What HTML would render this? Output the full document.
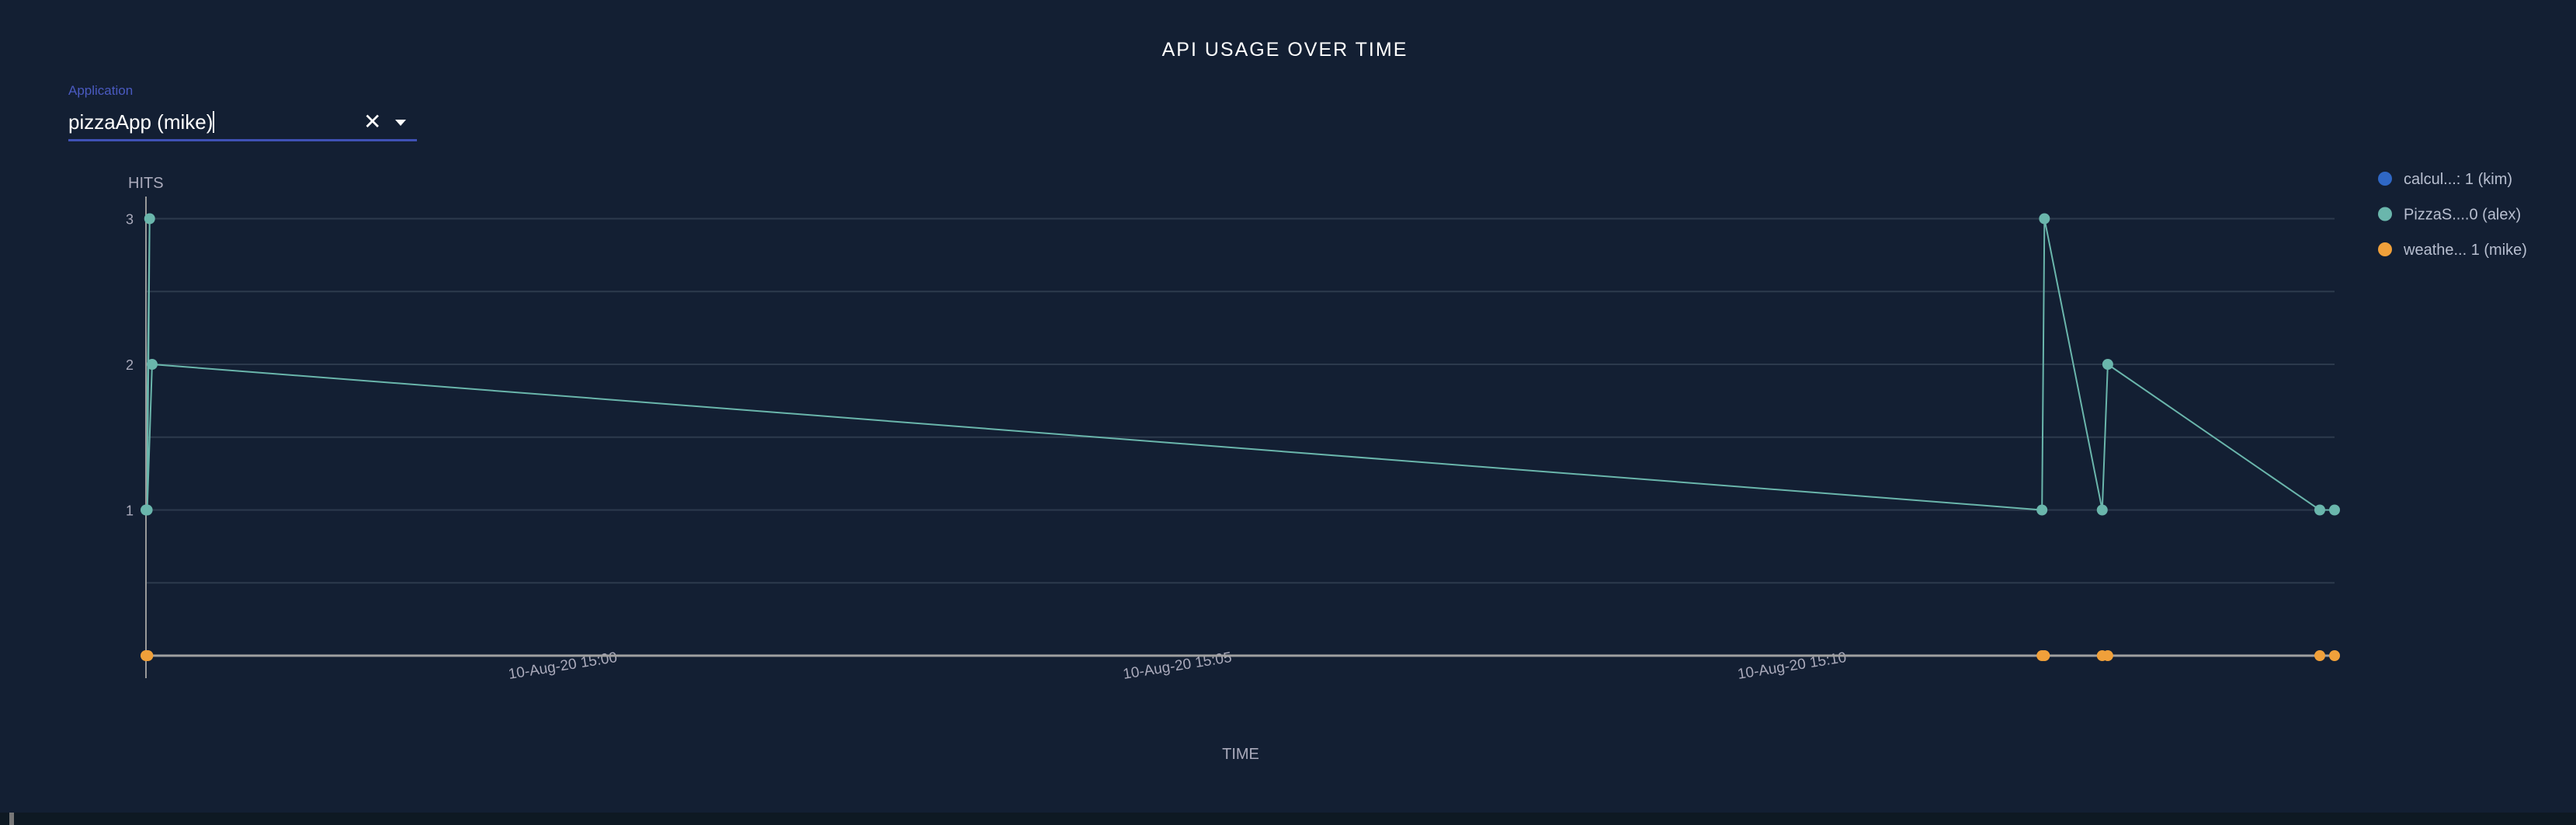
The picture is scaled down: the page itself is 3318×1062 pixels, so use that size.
<!DOCTYPE html>
<html><head><meta charset="utf-8">
<style>
html,body{margin:0;padding:0;background:#131f33;}
body{width:3318px;height:1062px;position:relative;overflow:hidden;font-family:"Liberation Sans",sans-serif;}
.abs{position:absolute;}
</style></head>
<body>
<div class="abs" style="left:0;width:3310px;top:50px;text-align:center;color:#fff;font-size:25px;letter-spacing:2px;">API USAGE OVER TIME</div>
<div class="abs" style="left:88px;top:107px;color:#4a5ac0;font-size:17px;">Application</div>
<div class="abs" style="left:88px;top:139px;width:449px;height:40px;border-bottom:3px solid #3f51b5;">
  <span style="color:#fff;font-size:26px;line-height:36px;">pizzaApp (mike)<span style="display:inline-block;width:2px;height:28px;background:#fff;vertical-align:-5px;"></span></span>
  <span style="position:absolute;left:380px;top:0;color:#fff;font-size:28px;line-height:36px;">✕</span>
  <span style="position:absolute;left:421px;top:15px;width:0;height:0;border-left:7px solid transparent;border-right:7px solid transparent;border-top:8px solid #fff;"></span>
</div>
<div class="abs" style="left:0;top:1046px;width:3318px;height:16px;background:#0e1923;"></div>
<div class="abs" style="left:12px;top:1046px;width:6px;height:16px;background:#777;"></div>
<svg id="chart" class="abs" style="left:0;top:0" width="3318" height="1062"></svg>
<script>
const yTicks=[1,2,3];
const xTickMinutes=[0,5,10];
const xTickLabels=["10-Aug-20 15:00","10-Aug-20 15:05","10-Aug-20 15:10"];
const seriesNames=["calcul...: 1 (kim)","PizzaS....0 (alex)","weathe... 1 (mike)"];
const seriesColors=["#2f67c4","#6ab6ac","#f0a03a"];
// minutes relative to 15:00
const pizzaTimes=[-2.955,-2.925,-2.945,-2.905,12.47,12.49,12.96,13.005,14.73,14.85];
const pizzaHits=[1,3,1,2,1,3,1,2,1,1];
const weatherTimes=[-2.955,-2.94,12.47,12.49,12.96,13.005,14.73,14.85];
const weatherHits=[0,0,0,0,0,0,0,0];
const calcTimes=[];
const calcHits=[];

const NS="http://www.w3.org/2000/svg";
const svg=document.getElementById('chart');
const X0=188,X1=3007,Y0=844,UNIT=187.5;
const tMin=-2.955,tMax=14.85;
function xs(t){return X0+(t-tMin)/(tMax-tMin)*(X1-X0);}
function ys(v){return Y0-v*UNIT;}
function mk(tag,attrs){const e=document.createElementNS(NS,tag);for(const k in attrs)e.setAttribute(k,attrs[k]);svg.appendChild(e);return e;}
for(let v=0.5;v<=3.001;v+=0.5){
  const g=mk('line',{x1:X0,x2:X1,y1:ys(v),y2:ys(v),stroke:'#2c3a4d','stroke-width':2});
  
  
}
yTicks.forEach(v=>{
  const t=mk('text',{x:172,y:ys(v)+7,'text-anchor':'end',fill:'#aab','font-size':18,'font-family':'Liberation Sans, sans-serif'});
  t.textContent=v;
  
  
});
xTickMinutes.forEach((m,i)=>{
  const x=xs(m);
  const t=mk('text',{x:x,y:874,fill:'#aab','font-size':19,'font-family':'Liberation Sans, sans-serif',transform:`rotate(-9 ${x} 874)`});
  t.textContent=xTickLabels[i];
  
  
});
const yt=mk('text',{x:165,y:242,fill:'#aab','font-size':20,'font-family':'Liberation Sans, sans-serif'});
yt.textContent='HITS';


const xt=mk('text',{x:1598,y:977,'text-anchor':'middle',fill:'#aab','font-size':20,'font-family':'Liberation Sans, sans-serif'});
xt.textContent='TIME';


function drawLine(times,vals,color,name){
  if(!times.length)return;
  const pl=mk('polyline',{points:times.map((t,i)=>xs(t)+','+ys(vals[i])).join(' '),fill:'none',stroke:color,'stroke-width':2});
  
  
}
function drawPoints(times,vals,color,name){
  times.forEach((t,i)=>{
    const c=mk('circle',{cx:xs(t),cy:ys(vals[i]),r:7,fill:color});
    
    
  });
}
drawLine(calcTimes,calcHits,seriesColors[0],'calc');
drawLine(weatherTimes,weatherHits,seriesColors[2],'weather');
drawLine(pizzaTimes,pizzaHits,seriesColors[1],'pizza');
const ya=mk('line',{x1:X0,x2:X0,y1:253,y2:873,stroke:'#999','stroke-width':2});


const xa=mk('line',{x1:X0,x2:X1,y1:Y0,y2:Y0,stroke:'#a0a0a0','stroke-width':3});


drawPoints(calcTimes,calcHits,seriesColors[0],'calc');
drawPoints(weatherTimes,weatherHits,seriesColors[2],'weather');
drawPoints(pizzaTimes,pizzaHits,seriesColors[1],'pizza');
seriesNames.forEach((n,i)=>{
  const y=230+i*45.5;
  const c=mk('circle',{cx:3072,cy:y,r:9,fill:seriesColors[i]});
  
  
  const t=mk('text',{x:3096,y:y+7,fill:'#b8bfd0','font-size':20,'font-family':'Liberation Sans, sans-serif'});
  t.textContent=n;
  
  
});
</script>
</body></html>
